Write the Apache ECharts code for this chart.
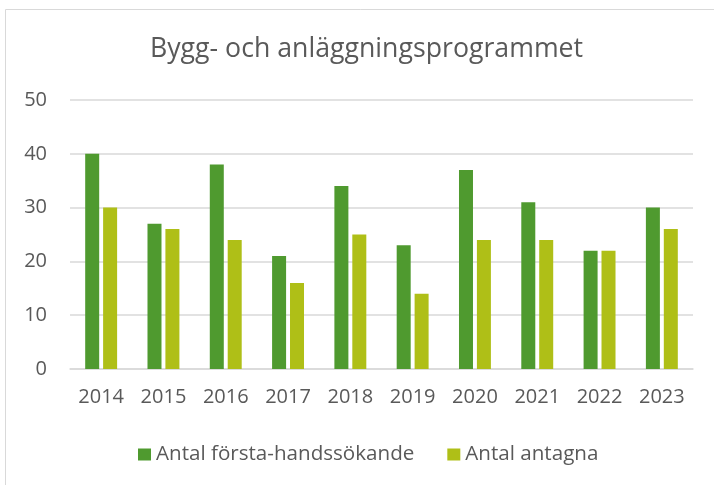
<!DOCTYPE html>
<html><head><meta charset="utf-8">
<script src="https://cdn.jsdelivr.net/npm/echarts@6/dist/echarts.min.js"></script>
<style>html,body{margin:0;padding:0;background:#fff}#c{width:714px;height:485px}</style>
</head><body><div id="c"></div>
<script>
const categories = ['2014','2015','2016','2017','2018','2019','2020','2021','2022','2023'];
const forstaHand = [40,27,38,21,34,23,37,31,22,30];
const antagna = [30,26,24,16,25,14,24,24,22,26];
const yTicks = {min:0,max:50,interval:10};

const chart = echarts.init(document.getElementById('c'));
const font = 'Open Sans, Noto Sans, sans-serif';
chart.setOption({
  animation:false,
  graphic:[{type:'rect',shape:{x:5.5,y:9.5,width:720,height:490},style:{fill:'none',stroke:'#d9d9d9',lineWidth:1}}],
  title:{text:'Bygg- och anläggningsprogrammet',left:145,top:31,textStyle:{fontFamily:font,fontSize:26.7,fontWeight:'normal',color:'#595959'}},
  legend:{top:439,left:133,itemWidth:13,itemHeight:12,itemGap:33,icon:'rect',textStyle:{fontFamily:font,fontSize:20.6,color:'#595959'}},
  grid:{left:70,right:21,top:100,bottom:116},
  xAxis:{type:'category',data:categories,axisTick:{show:false},axisLine:{lineStyle:{color:'#d9d9d9',width:1.5}},axisLabel:{fontFamily:font,fontSize:20,color:'#595959',margin:18}},
  yAxis:{type:'value',min:yTicks.min,max:yTicks.max,interval:yTicks.interval,splitLine:{lineStyle:{color:'#d9d9d9',width:1.5}},axisLabel:{fontFamily:font,fontSize:20,color:'#595959',margin:23}},
  series:[
    {name:'Antal första-handssökande',type:'bar',data:forstaHand,barWidth:14,barGap:'28%',itemStyle:{color:'#4f9a2f'}},
    {name:'Antal antagna',type:'bar',data:antagna,barWidth:14,itemStyle:{color:'#afbf17'}}
  ]
});
</script></body></html>
